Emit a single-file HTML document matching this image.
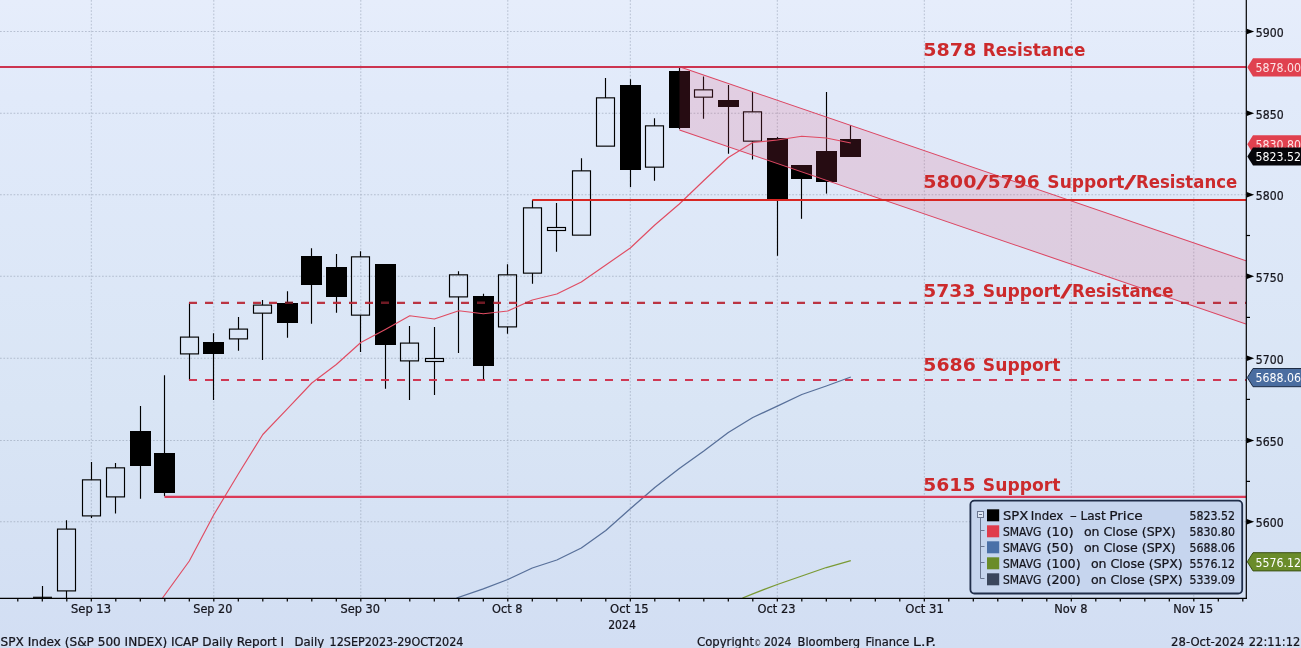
<!DOCTYPE html>
<html lang="en"><head><meta charset="utf-8"><title>SPX Index - ICAP Daily Report</title>
<style>
html,body{margin:0;padding:0;background:#d6e0f2;}
body{width:1301px;height:648px;overflow:hidden;}
svg{display:block;}
text{font-family:"DejaVu Sans","Liberation Sans",sans-serif;}
.t{font-size:12.7px;fill:#14141c;font-stretch:condensed;stroke:#14141c;stroke-width:0.22px;}
.lbl{font-size:17.33px;font-weight:bold;fill:#cc2a2c;}
.fl{font-size:12.7px;font-stretch:condensed;}
</style></head><body>
<svg width="1301" height="648" viewBox="0 0 1301 648">
<defs>
<linearGradient id="bg" x1="0" y1="0" x2="0" y2="1">
<stop offset="0" stop-color="#e6edfb"/><stop offset="0.15" stop-color="#e1eafa"/><stop offset="0.63" stop-color="#d9e5f5"/><stop offset="1" stop-color="#d2def3"/>
</linearGradient>
<clipPath id="plot"><rect x="0" y="0" width="1246" height="598"/></clipPath>
</defs>
<rect width="1301" height="648" fill="url(#bg)"/>

<g stroke="#8c97ab" stroke-width="0.85" stroke-dasharray="1.7 1.7" fill="none" opacity="0.62">
<line x1="0" y1="31.5" x2="1246" y2="31.5"/>
<line x1="0" y1="113.25" x2="1246" y2="113.25"/>
<line x1="0" y1="194.75" x2="1246" y2="194.75"/>
<line x1="0" y1="276.25" x2="1246" y2="276.25"/>
<line x1="0" y1="358.25" x2="1246" y2="358.25"/>
<line x1="0" y1="440.5" x2="1246" y2="440.5"/>
<line x1="0" y1="521.75" x2="1246" y2="521.75"/>
<line x1="91.30" y1="0" x2="91.30" y2="598"/>
<line x1="213.80" y1="0" x2="213.80" y2="598"/>
<line x1="360.80" y1="0" x2="360.80" y2="598"/>
<line x1="507.80" y1="0" x2="507.80" y2="598"/>
<line x1="630.30" y1="0" x2="630.30" y2="598"/>
<line x1="777.30" y1="0" x2="777.30" y2="598"/>
<line x1="924.30" y1="0" x2="924.30" y2="598"/>
<line x1="1071.30" y1="0" x2="1071.30" y2="598"/>
<line x1="1193.80" y1="0" x2="1193.80" y2="598"/>
</g>
<g clip-path="url(#plot)">
<g stroke="#000" stroke-width="1.15" fill="none">
<line x1="42.5" y1="586" x2="42.5" y2="598"/><line x1="33" y1="597.3" x2="52" y2="597.3"/>
<line x1="66.5" y1="520.25" x2="66.5" y2="529.1"/>
<line x1="66.5" y1="590.9" x2="66.5" y2="598"/>
<rect x="57.5" y="529.1" width="18" height="61.80"/>
<line x1="91.5" y1="462" x2="91.5" y2="479.85"/>
<line x1="91.5" y1="515.9" x2="91.5" y2="518"/>
<rect x="82.5" y="479.85" width="18" height="36.05"/>
<line x1="115.5" y1="463" x2="115.5" y2="467.85"/>
<line x1="115.5" y1="496.9" x2="115.5" y2="513.5"/>
<rect x="106.5" y="467.85" width="18" height="29.05"/>
<line x1="140.5" y1="406" x2="140.5" y2="498.75"/>
<rect x="130" y="431" width="21" height="35" fill="#000" stroke="none"/>
<line x1="164.5" y1="375.25" x2="164.5" y2="496.25"/>
<rect x="154" y="453" width="21" height="40" fill="#000" stroke="none"/>
<line x1="189.5" y1="302.5" x2="189.5" y2="337.1"/>
<line x1="189.5" y1="353.9" x2="189.5" y2="380"/>
<rect x="180.5" y="337.1" width="18" height="16.80"/>
<line x1="213.5" y1="333.25" x2="213.5" y2="400"/>
<rect x="203" y="342" width="21" height="12" fill="#000" stroke="none"/>
<line x1="238.5" y1="317" x2="238.5" y2="329.1"/>
<line x1="238.5" y1="338.9" x2="238.5" y2="350.75"/>
<rect x="229.5" y="329.1" width="18" height="9.80"/>
<line x1="262.5" y1="300" x2="262.5" y2="305.1"/>
<line x1="262.5" y1="313.15" x2="262.5" y2="360"/>
<rect x="253.5" y="305.1" width="18" height="8.05"/>
<line x1="287.5" y1="291.25" x2="287.5" y2="337.75"/>
<rect x="277" y="303" width="21" height="20" fill="#000" stroke="none"/>
<line x1="311.5" y1="248.25" x2="311.5" y2="323.75"/>
<rect x="301" y="256" width="21" height="29" fill="#000" stroke="none"/>
<line x1="336.5" y1="254" x2="336.5" y2="312.75"/>
<rect x="326" y="267" width="21" height="30" fill="#000" stroke="none"/>
<line x1="360.5" y1="251.25" x2="360.5" y2="256.85"/>
<line x1="360.5" y1="315.15" x2="360.5" y2="352"/>
<rect x="351.5" y="256.85" width="18" height="58.30"/>
<line x1="385.5" y1="264" x2="385.5" y2="388.75"/>
<rect x="375" y="264" width="21" height="81" fill="#000" stroke="none"/>
<line x1="409.5" y1="326" x2="409.5" y2="343.1"/>
<line x1="409.5" y1="360.9" x2="409.5" y2="400"/>
<rect x="400.5" y="343.1" width="18" height="17.80"/>
<line x1="434.5" y1="327" x2="434.5" y2="358.5"/>
<line x1="434.5" y1="361.5" x2="434.5" y2="395"/>
<rect x="425.5" y="358.5" width="18" height="3.00"/>
<line x1="458.5" y1="271.25" x2="458.5" y2="274.85"/>
<line x1="458.5" y1="296.9" x2="458.5" y2="353"/>
<rect x="449.5" y="274.85" width="18" height="22.05"/>
<line x1="483.5" y1="293.75" x2="483.5" y2="380"/>
<rect x="473" y="296" width="21" height="70" fill="#000" stroke="none"/>
<line x1="507.5" y1="264.25" x2="507.5" y2="274.85"/>
<line x1="507.5" y1="326.9" x2="507.5" y2="333.75"/>
<rect x="498.5" y="274.85" width="18" height="52.05"/>
<line x1="532.5" y1="200" x2="532.5" y2="207.85"/>
<line x1="532.5" y1="273.15" x2="532.5" y2="283.75"/>
<rect x="523.5" y="207.85" width="18" height="65.30"/>
<line x1="556.5" y1="203" x2="556.5" y2="227.5"/>
<line x1="556.5" y1="230.5" x2="556.5" y2="251.75"/>
<rect x="547.5" y="227.5" width="18" height="3.00"/>
<line x1="581.5" y1="158.25" x2="581.5" y2="170.85"/>
<rect x="572.5" y="170.85" width="18" height="64.30"/>
<line x1="605.5" y1="78" x2="605.5" y2="97.85"/>
<rect x="596.5" y="97.85" width="18" height="48.30"/>
<line x1="630.5" y1="79.25" x2="630.5" y2="187"/>
<rect x="620" y="85" width="21" height="85" fill="#000" stroke="none"/>
<line x1="654.5" y1="118.25" x2="654.5" y2="125.85"/>
<line x1="654.5" y1="167.15" x2="654.5" y2="180.75"/>
<rect x="645.5" y="125.85" width="18" height="41.30"/>
<line x1="679.5" y1="67.5" x2="679.5" y2="129.25"/>
<rect x="669" y="71" width="21" height="57" fill="#000" stroke="none"/>
<line x1="703.5" y1="76.5" x2="703.5" y2="89.85"/>
<line x1="703.5" y1="97.15" x2="703.5" y2="118.75"/>
<rect x="694.5" y="89.85" width="18" height="7.30"/>
<line x1="728.5" y1="85" x2="728.5" y2="153.75"/>
<rect x="718" y="100" width="21" height="7" fill="#000" stroke="none"/>
<line x1="752.5" y1="92" x2="752.5" y2="111.85"/>
<line x1="752.5" y1="141.15" x2="752.5" y2="159.5"/>
<rect x="743.5" y="111.85" width="18" height="29.30"/>
<line x1="777.5" y1="137" x2="777.5" y2="255.8"/>
<rect x="767" y="138" width="21" height="61" fill="#000" stroke="none"/>
<line x1="801.5" y1="165" x2="801.5" y2="218.8"/>
<rect x="791" y="165" width="21" height="14" fill="#000" stroke="none"/>
<line x1="826.5" y1="92" x2="826.5" y2="193.6"/>
<rect x="816" y="151" width="21" height="31" fill="#000" stroke="none"/>
<line x1="850.5" y1="125" x2="850.5" y2="156.75"/>
<rect x="840" y="139" width="21" height="18" fill="#000" stroke="none"/>
</g>
<polyline fill="none" stroke="#e04c62" stroke-width="1.15" stroke-linejoin="round" points="162.5,598.0 189.3,561.0 213.8,514.8 238.3,474.0 262.8,434.5 287.3,408.8 311.8,383.0 336.3,364.5 360.8,342.5 385.3,329.5 409.8,315.8 434.3,319.0 458.8,310.8 483.3,313.8 507.8,311.0 532.3,300.0 556.8,294.0 581.3,282.0 605.8,265.0 630.3,248.0 654.8,225.0 679.3,204.0 703.8,180.5 728.3,157.5 752.8,142.5 777.3,140.0 801.8,136.2 826.3,138.0 850.8,143.0"/>
<polyline fill="none" stroke="#58709a" stroke-width="1.3" stroke-linejoin="round" points="456.5,598.0 483.3,588.8 507.8,579.5 532.3,568.0 556.8,560.0 581.3,548.0 605.8,530.5 630.3,508.8 654.8,487.5 679.3,468.5 703.8,451.0 728.3,432.5 752.8,417.5 777.3,406.2 801.8,394.5 826.3,386.0 850.8,377.0"/>
<polyline fill="none" stroke="#7a9a34" stroke-width="1.3" stroke-linejoin="round" points="742.5,598.0 752.8,593.8 777.3,584.5 801.8,576.0 826.3,567.5 850.8,560.5"/>
<polygon points="679.5,66.75 1246,260.78 1246,324.03 679.5,130" fill="#e4496b" fill-opacity="0.17" stroke="none"/>
<g stroke="#dc4662" stroke-width="1.05"><line x1="679.5" y1="66.75" x2="1246" y2="260.78"/><line x1="679.5" y1="130" x2="1246" y2="324.03"/></g>
<line x1="0" y1="67" x2="1246" y2="67" stroke="#cc3450" stroke-width="2.2"/>
<line x1="532.3" y1="200" x2="1246" y2="200" stroke="#d82622" stroke-width="2.2"/>
<line x1="164.5" y1="496.9" x2="1246" y2="496.9" stroke="#dc3a58" stroke-width="2.2"/>
<line x1="189" y1="302.9" x2="1246" y2="302.9" stroke="#b82a38" stroke-width="2.2" stroke-dasharray="8 8" stroke-opacity="0.95"/>
<line x1="285" y1="302.9" x2="293" y2="302.9" stroke="#6e1a24" stroke-width="2.2"/>
<line x1="381" y1="302.9" x2="389" y2="302.9" stroke="#6e1a24" stroke-width="2.2"/>
<line x1="477" y1="302.9" x2="485" y2="302.9" stroke="#6e1a24" stroke-width="2.2"/>
<line x1="493" y1="302.9" x2="494" y2="302.9" stroke="#6e1a24" stroke-width="2.2"/>
<line x1="189" y1="380" x2="1246" y2="380" stroke="#cf2e4a" stroke-width="2.2" stroke-dasharray="8 8" stroke-opacity="0.95"/>
</g>
<text class="lbl" x="923.35" y="55.75" textLength="53.05" lengthAdjust="spacingAndGlyphs">5878</text>
<text class="lbl" x="982.85" y="55.75" textLength="102.55" lengthAdjust="spacingAndGlyphs">Resistance</text>
<text class="lbl" x="923.35" y="187.6" textLength="53.05" lengthAdjust="spacingAndGlyphs">5800</text>
<text class="lbl" x="975.70" y="187.6" textLength="12.40" lengthAdjust="spacingAndGlyphs">/</text>
<text class="lbl" x="987.85" y="187.6" textLength="51.80" lengthAdjust="spacingAndGlyphs">5796</text>
<text class="lbl" x="1047.35" y="187.6" textLength="77.15" lengthAdjust="spacingAndGlyphs">Support</text>
<text class="lbl" x="1123.70" y="187.6" textLength="12.80" lengthAdjust="spacingAndGlyphs">/</text>
<text class="lbl" x="1136.10" y="187.6" textLength="101.05" lengthAdjust="spacingAndGlyphs">Resistance</text>
<text class="lbl" x="923.35" y="296.8" textLength="52.05" lengthAdjust="spacingAndGlyphs">5733</text>
<text class="lbl" x="982.85" y="296.8" textLength="77.65" lengthAdjust="spacingAndGlyphs">Support</text>
<text class="lbl" x="1059.90" y="296.8" textLength="12.60" lengthAdjust="spacingAndGlyphs">/</text>
<text class="lbl" x="1072.10" y="296.8" textLength="101.30" lengthAdjust="spacingAndGlyphs">Resistance</text>
<text class="lbl" x="923.35" y="370.75" textLength="52.55" lengthAdjust="spacingAndGlyphs">5686</text>
<text class="lbl" x="982.85" y="370.75" textLength="77.55" lengthAdjust="spacingAndGlyphs">Support</text>
<text class="lbl" x="923.35" y="490.5" textLength="52.05" lengthAdjust="spacingAndGlyphs">5615</text>
<text class="lbl" x="982.85" y="490.5" textLength="77.55" lengthAdjust="spacingAndGlyphs">Support</text>
<g stroke="#000" stroke-width="1.2" fill="none">
<line x1="0" y1="598.3" x2="1246.9" y2="598.3"/><line x1="1246.3" y1="0" x2="1246.3" y2="598.9"/>
<line x1="17.80" y1="598" x2="17.80" y2="601.6"/>
<line x1="42.30" y1="598" x2="42.30" y2="601.6"/>
<line x1="66.80" y1="598" x2="66.80" y2="601.6"/>
<line x1="91.30" y1="598" x2="91.30" y2="601.6"/>
<line x1="115.80" y1="598" x2="115.80" y2="601.6"/>
<line x1="140.30" y1="598" x2="140.30" y2="601.6"/>
<line x1="164.80" y1="598" x2="164.80" y2="601.6"/>
<line x1="189.30" y1="598" x2="189.30" y2="601.6"/>
<line x1="213.80" y1="598" x2="213.80" y2="601.6"/>
<line x1="238.30" y1="598" x2="238.30" y2="601.6"/>
<line x1="262.80" y1="598" x2="262.80" y2="601.6"/>
<line x1="287.30" y1="598" x2="287.30" y2="601.6"/>
<line x1="311.80" y1="598" x2="311.80" y2="601.6"/>
<line x1="336.30" y1="598" x2="336.30" y2="601.6"/>
<line x1="360.80" y1="598" x2="360.80" y2="601.6"/>
<line x1="385.30" y1="598" x2="385.30" y2="601.6"/>
<line x1="409.80" y1="598" x2="409.80" y2="601.6"/>
<line x1="434.30" y1="598" x2="434.30" y2="601.6"/>
<line x1="458.80" y1="598" x2="458.80" y2="601.6"/>
<line x1="483.30" y1="598" x2="483.30" y2="601.6"/>
<line x1="507.80" y1="598" x2="507.80" y2="601.6"/>
<line x1="532.30" y1="598" x2="532.30" y2="601.6"/>
<line x1="556.80" y1="598" x2="556.80" y2="601.6"/>
<line x1="581.30" y1="598" x2="581.30" y2="601.6"/>
<line x1="605.80" y1="598" x2="605.80" y2="601.6"/>
<line x1="630.30" y1="598" x2="630.30" y2="601.6"/>
<line x1="654.80" y1="598" x2="654.80" y2="601.6"/>
<line x1="679.30" y1="598" x2="679.30" y2="601.6"/>
<line x1="703.80" y1="598" x2="703.80" y2="601.6"/>
<line x1="728.30" y1="598" x2="728.30" y2="601.6"/>
<line x1="752.80" y1="598" x2="752.80" y2="601.6"/>
<line x1="777.30" y1="598" x2="777.30" y2="601.6"/>
<line x1="801.80" y1="598" x2="801.80" y2="601.6"/>
<line x1="826.30" y1="598" x2="826.30" y2="601.6"/>
<line x1="850.80" y1="598" x2="850.80" y2="601.6"/>
<line x1="875.30" y1="598" x2="875.30" y2="601.6"/>
<line x1="899.80" y1="598" x2="899.80" y2="601.6"/>
<line x1="924.30" y1="598" x2="924.30" y2="601.6"/>
<line x1="948.80" y1="598" x2="948.80" y2="601.6"/>
<line x1="973.30" y1="598" x2="973.30" y2="601.6"/>
<line x1="997.80" y1="598" x2="997.80" y2="601.6"/>
<line x1="1022.30" y1="598" x2="1022.30" y2="601.6"/>
<line x1="1046.80" y1="598" x2="1046.80" y2="601.6"/>
<line x1="1071.30" y1="598" x2="1071.30" y2="601.6"/>
<line x1="1095.80" y1="598" x2="1095.80" y2="601.6"/>
<line x1="1120.30" y1="598" x2="1120.30" y2="601.6"/>
<line x1="1144.80" y1="598" x2="1144.80" y2="601.6"/>
<line x1="1169.30" y1="598" x2="1169.30" y2="601.6"/>
<line x1="1193.80" y1="598" x2="1193.80" y2="601.6"/>
<line x1="1218.30" y1="598" x2="1218.30" y2="601.6"/>
<line x1="1242.80" y1="598" x2="1242.80" y2="601.6"/>
<line x1="1246" y1="235.5" x2="1250" y2="235.5"/>
<line x1="1246" y1="317.4" x2="1250" y2="317.4"/>
<line x1="1246" y1="399.4" x2="1250" y2="399.4"/>
<line x1="1246" y1="481.4" x2="1250" y2="481.4"/>
</g>
<polygon points="1246.8,28.8 1254.2,31.5 1246.8,34.2" fill="#000"/>
<text class="t" x="1255.8" y="37.00" textLength="27.8" lengthAdjust="spacingAndGlyphs">5900</text>
<polygon points="1246.8,110.55 1254.2,113.25 1246.8,115.95" fill="#000"/>
<text class="t" x="1255.8" y="118.75" textLength="27.8" lengthAdjust="spacingAndGlyphs">5850</text>
<polygon points="1246.8,192.05 1254.2,194.75 1246.8,197.45" fill="#000"/>
<text class="t" x="1255.8" y="200.25" textLength="27.8" lengthAdjust="spacingAndGlyphs">5800</text>
<polygon points="1246.8,273.55 1254.2,276.25 1246.8,278.95" fill="#000"/>
<text class="t" x="1255.8" y="281.75" textLength="27.8" lengthAdjust="spacingAndGlyphs">5750</text>
<polygon points="1246.8,355.55 1254.2,358.25 1246.8,360.95" fill="#000"/>
<text class="t" x="1255.8" y="363.75" textLength="27.8" lengthAdjust="spacingAndGlyphs">5700</text>
<polygon points="1246.8,437.8 1254.2,440.5 1246.8,443.2" fill="#000"/>
<text class="t" x="1255.8" y="446.00" textLength="27.8" lengthAdjust="spacingAndGlyphs">5650</text>
<polygon points="1246.8,519.05 1254.2,521.75 1246.8,524.45" fill="#000"/>
<text class="t" x="1255.8" y="527.25" textLength="27.8" lengthAdjust="spacingAndGlyphs">5600</text>
<polygon points="1247.3,67.3 1253,58.199999999999996 1302,58.199999999999996 1302,76.39999999999999 1253,76.39999999999999" fill="#e0414f"/>
<text class="fl" x="1255.6" y="72.00" fill="#fde4e6" textLength="45.5" lengthAdjust="spacingAndGlyphs">5878.00</text>
<polygon points="1247.3,144.3 1253,135.20000000000002 1302,135.20000000000002 1302,153.4 1253,153.4" fill="#e0414f"/>
<text class="fl" x="1255.6" y="149.00" fill="#fde4e6" textLength="45.5" lengthAdjust="spacingAndGlyphs">5830.80</text>
<polygon points="1247.3,156.5 1253,147.4 1302,147.4 1302,165.6 1253,165.6" fill="#06060a"/>
<text class="fl" x="1255.6" y="161.20" fill="#ffffff" textLength="45.5" lengthAdjust="spacingAndGlyphs">5823.52</text>
<polygon points="1247.3,377.6 1253,368.5 1302,368.5 1302,386.70000000000005 1253,386.70000000000005" fill="#4a6da0" stroke="#1d2c44" stroke-width="1"/>
<text class="fl" x="1255.6" y="382.30" fill="#ffffff" textLength="45.5" lengthAdjust="spacingAndGlyphs">5688.06</text>
<polygon points="1247.3,561.8 1253,552.6999999999999 1302,552.6999999999999 1302,570.9 1253,570.9" fill="#6a8c2a" stroke="#3c5216" stroke-width="1"/>
<text class="fl" x="1255.6" y="566.50" fill="#ffffff" textLength="45.5" lengthAdjust="spacingAndGlyphs">5576.12</text>
<text class="t" x="71.00" y="613" textLength="40" lengthAdjust="spacingAndGlyphs">Sep 13</text>
<text class="t" x="193.30" y="613" textLength="39" lengthAdjust="spacingAndGlyphs">Sep 20</text>
<text class="t" x="340.45" y="613" textLength="39.5" lengthAdjust="spacingAndGlyphs">Sep 30</text>
<text class="t" x="491.95" y="613" textLength="30.5" lengthAdjust="spacingAndGlyphs">Oct 8</text>
<text class="t" x="610.05" y="613" textLength="38.7" lengthAdjust="spacingAndGlyphs">Oct 15</text>
<text class="t" x="757.50" y="613" textLength="38" lengthAdjust="spacingAndGlyphs">Oct 23</text>
<text class="t" x="905.30" y="613" textLength="38.6" lengthAdjust="spacingAndGlyphs">Oct 31</text>
<text class="t" x="1054.30" y="613" textLength="33.2" lengthAdjust="spacingAndGlyphs">Nov 8</text>
<text class="t" x="1173.20" y="613" textLength="40" lengthAdjust="spacingAndGlyphs">Nov 15</text>
<text class="t" x="608.2" y="629.2" textLength="27.6" lengthAdjust="spacingAndGlyphs">2024</text>
<text class="t" x="0.6" y="645.5" textLength="283.6" lengthAdjust="spacingAndGlyphs">SPX Index (S&amp;P 500 INDEX) ICAP Daily Report I</text>
<text class="t" x="294.6" y="645.5" textLength="29.6" lengthAdjust="spacingAndGlyphs">Daily</text>
<text class="t" x="329.6" y="645.5" textLength="133.8" lengthAdjust="spacingAndGlyphs">12SEP2023-29OCT2024</text>
<text class="t" x="697.00" y="645.5" textLength="57.00" lengthAdjust="spacingAndGlyphs">Copyright</text>
<text class="t" x="754" y="645.5" style="font-size:8px;stroke:none">©</text>
<text class="t" x="763.90" y="645.5" textLength="27.60" lengthAdjust="spacingAndGlyphs">2024</text>
<text class="t" x="797.50" y="645.5" textLength="62.60" lengthAdjust="spacingAndGlyphs">Bloomberg</text>
<text class="t" x="865.50" y="645.5" textLength="43.90" lengthAdjust="spacingAndGlyphs">Finance</text>
<text class="t" x="913.00" y="645.5" textLength="23.00" lengthAdjust="spacingAndGlyphs">L.P.</text>
<text class="t" x="1171.10" y="645.5" textLength="73.20" lengthAdjust="spacingAndGlyphs">28-Oct-2024</text>
<text class="t" x="1248.80" y="645.5" textLength="51.50" lengthAdjust="spacingAndGlyphs">22:11:12</text>
<rect x="970.4" y="500.6" width="271.8" height="92.9" rx="4" ry="4" fill="#c6d5ee" stroke="#1f2d49" stroke-width="1.8"/>
<g stroke="#6a7690" stroke-width="1" fill="none"><rect x="977.5" y="511.5" width="6" height="6" fill="#dfe8f6"/><line x1="979" y1="514.5" x2="982" y2="514.5"/><path d="M980.5 517.5V578.5H984.5M980.5 530.5H984.5M980.5 546.5H984.5M980.5 562.5H984.5"/></g>
<rect x="987" y="509.3" width="12.2" height="12" fill="#000000"/>
<text class="t" x="1002.95" y="520.3" textLength="25.25" lengthAdjust="spacingAndGlyphs">SPX</text>
<text class="t" x="1030.80" y="520.3" textLength="32.50" lengthAdjust="spacingAndGlyphs">Index</text>
<text class="t" x="1069.70" y="520.3" textLength="7.25" lengthAdjust="spacingAndGlyphs">-</text>
<text class="t" x="1080.45" y="520.3" textLength="25.25" lengthAdjust="spacingAndGlyphs">Last</text>
<text class="t" x="1109.20" y="520.3" textLength="33.50" lengthAdjust="spacingAndGlyphs">Price</text>
<text class="t" x="1189.5" y="520.3" textLength="45.5" lengthAdjust="spacingAndGlyphs">5823.52</text>
<rect x="987" y="525.3" width="12.2" height="12" fill="#e03c4c"/>
<text class="t" x="1002.95" y="536.3" textLength="38.50" lengthAdjust="spacingAndGlyphs">SMAVG</text>
<text class="t" x="1046.45" y="536.3" textLength="27.25" lengthAdjust="spacingAndGlyphs">(10)</text>
<text class="t" x="1083.95" y="536.3" textLength="91.75" lengthAdjust="spacingAndGlyphs">on Close (SPX)</text>
<text class="t" x="1189.5" y="536.3" textLength="45.5" lengthAdjust="spacingAndGlyphs">5830.80</text>
<rect x="987" y="541.3" width="12.2" height="12" fill="#4a70a8"/>
<text class="t" x="1002.95" y="552.3" textLength="38.50" lengthAdjust="spacingAndGlyphs">SMAVG</text>
<text class="t" x="1046.45" y="552.3" textLength="27.25" lengthAdjust="spacingAndGlyphs">(50)</text>
<text class="t" x="1083.95" y="552.3" textLength="91.75" lengthAdjust="spacingAndGlyphs">on Close (SPX)</text>
<text class="t" x="1189.5" y="552.3" textLength="45.5" lengthAdjust="spacingAndGlyphs">5688.06</text>
<rect x="987" y="557.3" width="12.2" height="12" fill="#6a8c28"/>
<text class="t" x="1002.95" y="568.3" textLength="38.50" lengthAdjust="spacingAndGlyphs">SMAVG</text>
<text class="t" x="1046.45" y="568.3" textLength="34.25" lengthAdjust="spacingAndGlyphs">(100)</text>
<text class="t" x="1090.95" y="568.3" textLength="91.75" lengthAdjust="spacingAndGlyphs">on Close (SPX)</text>
<text class="t" x="1189.5" y="568.3" textLength="45.5" lengthAdjust="spacingAndGlyphs">5576.12</text>
<rect x="987" y="573.3" width="12.2" height="12" fill="#3a465c"/>
<text class="t" x="1002.95" y="584.3" textLength="38.50" lengthAdjust="spacingAndGlyphs">SMAVG</text>
<text class="t" x="1046.45" y="584.3" textLength="34.25" lengthAdjust="spacingAndGlyphs">(200)</text>
<text class="t" x="1090.95" y="584.3" textLength="91.75" lengthAdjust="spacingAndGlyphs">on Close (SPX)</text>
<text class="t" x="1189.5" y="584.3" textLength="45.5" lengthAdjust="spacingAndGlyphs">5339.09</text>
</svg></body></html>
